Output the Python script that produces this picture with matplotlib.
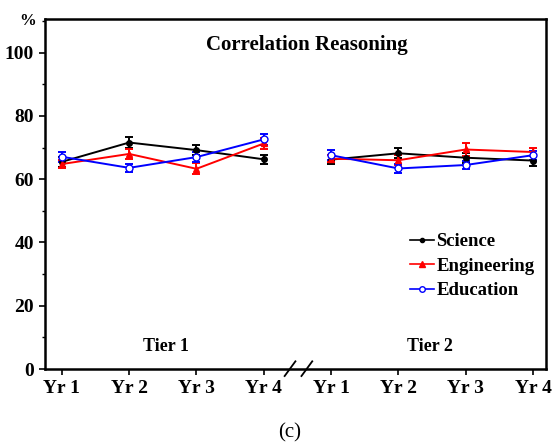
import matplotlib.pyplot as plt
from matplotlib.lines import Line2D
from matplotlib.ticker import MultipleLocator

plt.rcParams['font.family'] = ['Liberation Serif', 'DejaVu Serif']
plt.rcParams['font.weight'] = 'bold'

years = ["Yr 1", "Yr 2", "Yr 3", "Yr 4"]
tiers = ["Tier 1", "Tier 2"]

# mean % and error bar half-heights
science_t1 = [65.5, 71.6, 69.2, 66.3]
science_t1_err = [1.5, 1.7, 1.6, 1.5]
engineering_t1 = [64.8, 68.0, 63.3, 71.3]
engineering_t1_err = [1.2, 1.5, 1.7, 1.8]
education_t1 = [67.1, 63.6, 67.0, 72.6]
education_t1_err = [1.6, 1.3, 1.6, 1.8]

science_t2 = [66.2, 68.2, 66.8, 65.9]
science_t2_err = [1.4, 1.6, 1.6, 1.6]
engineering_t2 = [66.5, 66.0, 69.4, 68.6]
engineering_t2_err = [1.2, 1.6, 2.0, 1.2]
education_t2 = [67.6, 63.4, 64.5, 67.6]
education_t2_err = [1.5, 1.3, 1.4, 1.4]

series = [
    ("Science", "black", "o", "black", 4, science_t1, science_t1_err, science_t2, science_t2_err),
    ("Engineering", "red", "^", "red", 5, engineering_t1, engineering_t1_err, engineering_t2, engineering_t2_err),
    ("Education", "blue", "o", "white", 5, education_t1, education_t1_err, education_t2, education_t2_err),
]

x1 = [0, 1, 2, 3]
x2 = [4, 5, 6, 7]

fig = plt.figure(figsize=(5.53, 4.46), dpi=100)
ax = fig.add_axes([0.0814, 0.1726, 0.9056, 0.7844])

handles = []
for name, color, marker, face, ms, t1, e1, t2, e2 in series:
    for xs, ys, es in [(x1, t1, e1), (x2, t2, e2)]:
        ax.errorbar(xs, ys, yerr=es, color=color, marker=marker, markersize=ms,
                    markerfacecolor=face, markeredgecolor=color, linewidth=1.4,
                    elinewidth=1.4, capsize=3, capthick=1.4)
    handles.append(Line2D([0], [0], color=color, marker=marker, markersize=ms - 1,
                          markerfacecolor=face, markeredgecolor=color, linewidth=1.2))

ax.set_xlim(-0.25, 7.19)
ax.set_ylim(0, 110.6)
ax.set_xticks(x1 + x2)
ax.set_xticklabels(years + years, fontsize=14, fontweight='bold')
ax.yaxis.set_minor_locator(MultipleLocator(10))
ax.set_yticks([0, 20, 40, 60, 80, 100])
ax.set_yticklabels(["0", "20", "40", "60", "80", "100"], fontsize=14, fontweight='bold')
ax.tick_params(axis='both', which='major', direction='out', length=4, width=1.2, pad=4)
ax.tick_params(axis='y', which='minor', direction='out', length=2.5, width=1)
for s in ax.spines.values():
    s.set_linewidth(1.8)

ax.text(3.64, 102.5, "Correlation Reasoning", ha='center', va='center',
        fontsize=15, fontweight='bold')
ax.text(1.55, 7, tiers[0], ha='center', va='center', fontsize=13, fontweight='bold')
ax.text(5.47, 7, tiers[1], ha='center', va='center', fontsize=13, fontweight='bold')
ax.text(-0.034, 0.995, "%", transform=ax.transAxes, ha='center', va='center',
        fontsize=12, fontweight='bold')

# axis break marks
trans = ax.get_xaxis_transform()
for xc in [3.39, 3.64]:
    ax.plot([xc - 0.08, xc + 0.08], [-0.02, 0.022], color='black', linewidth=1.3,
            transform=trans, clip_on=False)

ax.legend(handles, [s[0] for s in series], loc='upper left', bbox_to_anchor=(0.714, 0.41),
          frameon=False, handlelength=1.3, handletextpad=0.1,
          labelspacing=0.4, borderaxespad=0, prop={'weight': 'bold', 'size': 13.5})

fig.text(0.524, 0.03, "(c)", ha='center', va='center', fontsize=15, fontweight='normal')

fig.savefig("out.png", dpi=100)
